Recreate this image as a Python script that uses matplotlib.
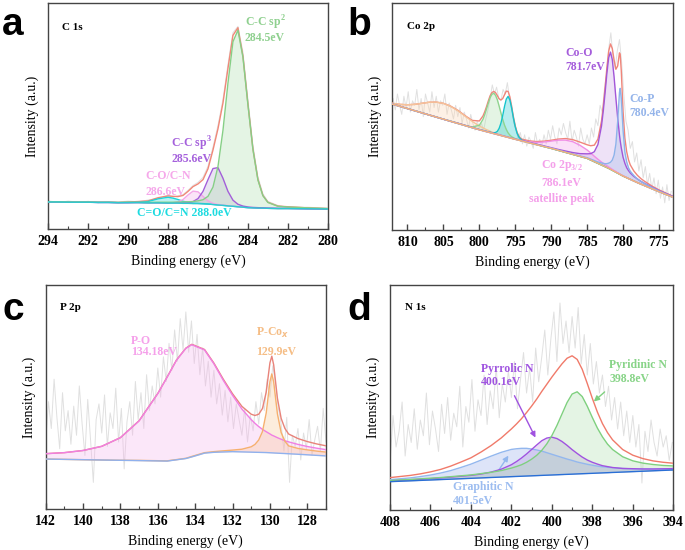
import numpy as np
import matplotlib
matplotlib.use('Agg')
import matplotlib.pyplot as plt
from matplotlib.ticker import MultipleLocator

# XPS fits, intensity in % of the axes height

# --- a: C 1s ---
a_x = [294, 293.5, 293, 292.5, 292, 291.5, 291, 290.5, 290, 289.5, 289, 288.5, 288,
       287.75, 287.5, 287.25, 287, 286.75, 286.5, 286.25, 286, 285.75, 285.5, 285.25, 285,
       284.75, 284.5, 284.25, 284, 283.75, 283.5, 283.25, 283, 282.5, 282, 281, 280]
a_base = [12.1, 12.1, 12.0, 12.0, 12.0, 11.9, 11.9, 11.8, 11.8, 11.8, 11.7, 11.7, 11.6,
          11.6, 11.6, 11.5, 11.5, 11.4, 11.4, 11.3, 11.2, 11.0, 10.8, 10.6, 10.4,
          10.2, 10.0, 9.8, 9.6, 9.5, 9.4, 9.4, 9.3, 9.2, 9.2, 9.1, 9.0]
a_c_o_n = [0, 0, 0, 0, 0, 0, 0, 0, 0.1, 0.2, 0.6, 1.8, 2.6,
           2.2, 1.6, 0.9, 0.5, 0.2, 0.1, 0.1, 0, 0, 0, 0, 0,
           0, 0, 0, 0, 0, 0, 0, 0, 0, 0, 0, 0]
a_co_cn = [0, 0, 0, 0, 0, 0, 0, 0, 0, 0, 0, 0.1, 0.1,
           0.2, 0.6, 1.7, 3.7, 5.5, 5.2, 3.3, 1.4, 0.5, 0.2, 0.1, 0.1,
           0.1, 0, 0, 0, 0, 0, 0, 0, 0, 0, 0, 0]
a_sp3 = [0, 0, 0, 0, 0, 0, 0, 0, 0, 0.1, 0.1, 0.1, 0.1,
         0.2, 0.2, 0.3, 0.4, 0.9, 2.2, 5.5, 10.8, 15.9, 16.5, 12.0, 6.4,
         2.7, 1.1, 0.5, 0.3, 0.2, 0.2, 0.1, 0.1, 0.1, 0.1, 0, 0]
a_sp2 = [0.1, 0.1, 0.1, 0.1, 0.1, 0.1, 0.1, 0.1, 0.2, 0.2, 0.2, 0.3, 0.4,
         0.4, 0.5, 0.6, 0.7, 0.9, 1.2, 1.8, 3.4, 7.7, 17.0, 33.2, 54.3,
         72.8, 78.1, 66.4, 45.6, 25.9, 12.5, 5.5, 2.6, 1.0, 0.7, 0.4, 0.2]
a_raw = [12.6, 11.9, 12.5, 12.0, 12.4, 11.8, 12.3, 12.1, 12.5, 12.2, 13.0, 13.6, 15.1,
         14.3, 14.9, 15.4, 17.3, 19.4, 20.8, 23.0, 27.9, 36.4, 46.0, 57.5, 73.0,
         87.0, 89.8, 78.5, 57.6, 37.3, 23.4, 15.8, 12.4, 10.6, 9.7, 9.8, 9.3]

# --- b: Co 2p ---
b_x = [812.5, 812, 811, 810, 809, 808, 807, 806, 805, 804, 803, 802, 801, 800,
       799.5, 799.25, 799, 798.75, 798.5, 798.25, 798, 797.75, 797.5, 797.25, 797, 796.75,
       796.5, 796.25, 796, 795.75, 795.5, 795.25, 795, 794.75, 794.5, 794.25, 794,
       793, 792, 791, 790, 789, 788, 787, 786, 785,
       784.5, 784, 783.5, 783,
       782.75, 782.5, 782.25, 782, 781.75, 781.5, 781.25, 781, 780.75, 780.5, 780.4,
       780.25, 780, 779.75, 779.5, 779.25, 779,
       778.5, 778, 777.5, 777, 776, 775, 774, 773]
b_base = [55.9, 55.43, 54.5, 53.56, 52.62, 51.69, 50.75, 49.82, 48.88, 47.94, 47.01, 46.07, 45.14, 44.2,
          43.78, 43.57, 43.36, 43.15, 42.94, 42.73, 42.52, 42.31, 42.1, 41.89, 41.68, 41.47,
          41.26, 41.05, 40.84, 40.63, 40.42, 40.21, 40.0, 39.8, 39.6, 39.4, 39.2,
          38.4, 37.6, 36.8, 36.0, 35.12, 34.24, 33.36, 32.48, 31.6,
          30.87, 30.13, 29.4, 28.67,
          28.3, 27.93, 27.57, 27.2, 26.78, 26.35, 25.93, 25.5, 25.08, 24.65, 24.48,
          24.23, 23.8, 23.44, 23.08, 22.71, 22.35,
          21.63, 20.9, 20.23, 19.57, 18.23, 16.9, 15.65, 14.4]
b_sat_12 = [0.3, 0.4, 0.9, 1.7, 2.8, 4.2, 5.6, 6.6, 7.0, 6.6, 5.6, 4.2, 2.8, 1.7,
            1.3, 1.1, 0.9, 0.8, 0.6, 0.5, 0.4, 0.4, 0.3, 0.2, 0.2, 0.1,
            0.1, 0.1, 0.1, 0.1, 0, 0, 0, 0, 0, 0, 0,
            0, 0, 0, 0, 0, 0, 0, 0, 0,
            0, 0, 0, 0,
            0, 0, 0, 0, 0, 0, 0, 0, 0, 0, 0,
            0, 0, 0, 0, 0, 0,
            0, 0, 0, 0, 0, 0, 0, 0]
b_p12_a = [0, 0, 0, 0, 0, 0, 0, 0, 0, 0.1, 0.1, 0.1, 0.3, 2.0,
           5.0, 7.3, 10.0, 12.8, 15.4, 17.1, 17.8, 17.1, 15.4, 12.8, 10.0, 7.3,
           5.0, 3.3, 2.0, 1.2, 0.7, 0.5, 0.3, 0.2, 0.2, 0.1, 0.1,
           0.1, 0.1, 0, 0, 0, 0, 0, 0, 0,
           0, 0, 0, 0,
           0, 0, 0, 0, 0, 0, 0, 0, 0, 0, 0,
           0, 0, 0, 0, 0, 0,
           0, 0, 0, 0, 0, 0, 0, 0]
b_p12_b = [0, 0, 0, 0, 0, 0, 0, 0, 0, 0, 0, 0, 0, 0.1,
           0.1, 0.1, 0.1, 0.1, 0.2, 0.2, 0.3, 0.7, 1.4, 2.9, 5.4, 9.0,
           13.2, 16.7, 18.1, 16.7, 13.2, 9.0, 5.4, 2.9, 1.4, 0.7, 0.3,
           0.1, 0.1, 0, 0, 0, 0, 0, 0, 0,
           0, 0, 0, 0,
           0, 0, 0, 0, 0, 0, 0, 0, 0, 0, 0,
           0, 0, 0, 0, 0, 0,
           0, 0, 0, 0, 0, 0, 0, 0]
b_sat_32 = [0, 0, 0, 0, 0, 0, 0, 0, 0, 0, 0, 0, 0, 0,
            0, 0, 0, 0, 0, 0, 0, 0, 0, 0, 0, 0,
            0, 0, 0, 0, 0, 0, 0.1, 0.1, 0.1, 0.1, 0.2,
            0.5, 1.0, 2.0, 3.2, 4.5, 5.4, 5.6, 4.9, 3.7,
            3.1, 2.4, 1.8, 1.3,
            1.1, 0.9, 0.8, 0.6, 0.5, 0.4, 0.3, 0.3, 0.2, 0.2, 0.1,
            0.1, 0.1, 0.1, 0.1, 0, 0,
            0, 0, 0, 0, 0, 0, 0, 0]
b_co_o = [0, 0, 0, 0, 0, 0, 0, 0, 0, 0, 0.1, 0.1, 0.1, 0.1,
          0.1, 0.1, 0.1, 0.1, 0.1, 0.1, 0.1, 0.1, 0.1, 0.1, 0.1, 0.1,
          0.1, 0.1, 0.1, 0.1, 0.1, 0.1, 0.1, 0.1, 0.1, 0.1, 0.2,
          0.2, 0.2, 0.3, 0.3, 0.4, 0.6, 0.8, 1.2, 2.0,
          2.8, 4.4, 8.3, 17.2,
          24.3, 32.7, 41.6, 48.8, 51.7, 48.8, 41.6, 32.7, 24.3, 17.2, 14.9,
          12.0, 8.3, 6.0, 4.4, 3.5, 2.8,
          2.0, 1.6, 1.2, 1.0, 0.7, 0.5, 0.4, 0.3]
b_co_p = [0, 0, 0, 0, 0, 0, 0, 0, 0, 0, 0, 0, 0, 0,
          0, 0, 0, 0, 0, 0, 0, 0, 0, 0, 0, 0,
          0, 0, 0, 0, 0, 0, 0, 0, 0, 0, 0,
          0, 0, 0.1, 0.1, 0.1, 0.1, 0.1, 0.2, 0.3,
          0.4, 0.5, 0.6, 0.9,
          1.1, 1.3, 1.7, 2.3, 3.1, 4.5, 7.1, 12.4, 22.8, 36.1, 38.0,
          33.9, 20.2, 11.0, 7.0, 4.8, 3.6,
          2.4, 1.6, 1.2, 0.9, 0.5, 0.3, 0.2, 0.1]
b_raw = [58, 53, 60, 55, 51, 59, 54, 61, 52, 57,
         55, 62, 53, 58, 50, 60, 56, 52, 61, 54,
         59, 52, 57, 55, 60, 51, 56, 53, 49, 55,
         50, 54, 47, 52, 49, 45, 51, 47, 44, 48,
         45, 47, 44, 49, 53, 58, 64, 60, 63, 58,
         57, 62, 60, 65, 58, 55, 47, 45, 40, 43,
         38, 42, 37, 41, 39, 36, 43, 38, 40, 37,
         42, 38, 44, 40, 46, 41, 38, 45, 42, 47,
         43, 40, 48, 39, 44, 41, 37, 45, 40, 38,
         42, 38, 45, 41, 49, 46, 55, 52, 62, 69,
         80, 87, 76, 71, 79, 84, 74, 60, 48, 44,
         36, 39, 30, 34, 26, 31, 23, 28, 20, 25,
         18, 23, 16, 22, 14, 19, 12, 20, 13, 17]

# --- c: P 2p ---
c_x = [142, 141, 140, 139, 138, 137, 136, 135.5, 135, 134.5, 134.18, 133.5, 133, 132.5, 132, 131.5,
       131, 130.8, 130.6, 130.4, 130.2, 130.0, 129.9, 129.8, 129.6, 129.4, 129.2, 129.0, 128.5, 128, 127.5, 127]
c_base = [22.4, 22.26, 22.12, 21.98, 21.85, 21.71, 21.57, 21.5, 22.07, 22.64, 23.37, 25.05, 25.41, 25.56, 25.7, 25.59,
          25.48, 25.43, 25.39, 25.34, 25.3, 25.21, 25.17, 25.12, 25.03, 24.94, 24.86, 24.77, 24.54, 24.3, 24.05, 23.8]
c_p_o = [2.4, 3.0, 4.1, 6.1, 10.1, 17.7, 30.0, 37.4, 44.4, 49.1, 50.0, 46.0, 39.5, 32.0, 25.1, 19.1,
         14.5, 12.9, 11.5, 10.3, 9.3, 8.4, 7.9, 7.6, 6.9, 6.3, 5.7, 5.3, 4.4, 3.7, 3.2, 2.8]
c_p_co = [0, 0, 0, 0, 0, 0.1, 0.1, 0.1, 0.1, 0.1, 0.2, 0.2, 0.3, 0.5, 0.7, 1.2,
          2.4, 3.5, 5.5, 9.3, 17.6, 31.7, 35.2, 31.7, 17.6, 9.3, 5.5, 3.5, 2.6, 2.2, 1.9, 1.7]
c_raw = [30, 48, 36, 58, 41, 27, 52, 35, 44, 29,
         46, 33, 55, 38, 24, 49, 31, 12, 40, 47,
         34, 51, 28, 43, 36, 54, 30, 45, 18, 39,
         48, 33, 57, 40, 52, 36, 60, 44, 55, 47,
         63, 50, 68, 57, 74, 62, 80, 66, 85, 71,
         88, 70, 84, 65, 78, 60, 72, 55, 66, 50,
         62, 47, 56, 42, 53, 39, 50, 36, 47, 40,
         33, 45, 30, 42, 35, 48, 38, 52, 44, 58,
         50, 64, 56, 45, 38, 26, 41, 12, 33, 28,
         36, 22, 34, 27, 40, 24, 31, 37, 26, 45, 30]

# --- d: N 1s ---
d_x = [408, 407.5, 407, 406.5, 406, 405.5, 405, 404.5, 404, 403.5, 403, 402.5,
       402, 401.75, 401.5, 401.25, 401, 400.75, 400.5, 400.25, 400, 399.75, 399.5,
       399.25, 399, 398.75, 398.5, 398.25, 398, 397.75, 397.5, 397.25, 397,
       396.5, 396, 395.5, 395, 394.5, 394]
d_base = [12.6, 12.79, 12.97, 13.16, 13.34, 13.53, 13.71, 13.9, 14.09, 14.27, 14.46, 14.64,
          14.83, 14.92, 15.01, 15.11, 15.2, 15.29, 15.39, 15.48, 15.57, 15.66, 15.76,
          15.85, 15.94, 16.04, 16.13, 16.22, 16.31, 16.41, 16.5, 16.59, 16.69,
          16.87, 17.06, 17.24, 17.43, 17.61, 17.8]
d_graphitic = [0.9, 1.1, 1.3, 1.7, 2.2, 2.9, 3.8, 5.0, 6.3, 7.9, 9.5, 11.0,
               12.1, 12.3, 12.4, 12.3, 11.9, 11.4, 10.8, 10.0, 9.2, 8.4, 7.6,
               6.8, 6.1, 5.3, 4.7, 4.1, 3.6, 3.1, 2.7, 2.4, 2.1,
               1.6, 1.2, 1.0, 0.8, 0.7, 0.6]
d_pyrrolic = [0.4, 0.4, 0.5, 0.5, 0.6, 0.7, 0.9, 1.1, 1.3, 1.7, 2.4, 3.5,
              5.3, 6.6, 8.1, 9.8, 11.7, 13.6, 15.4, 16.5, 16.8, 16.1, 14.7,
              12.9, 10.9, 9.1, 7.4, 6.0, 4.9, 4.0, 3.2, 2.7, 2.2,
              1.6, 1.3, 1.0, 0.8, 0.7, 0.6]
d_pyridinic = [0.5, 0.6, 0.6, 0.7, 0.8, 0.9, 1.1, 1.3, 1.5, 1.9, 2.3, 2.9,
               3.8, 4.4, 5.1, 6.1, 7.4, 9.0, 11.1, 13.9, 17.5, 21.9, 26.9,
               31.9, 35.6, 36.5, 34.3, 29.9, 24.8, 20.0, 16.0, 12.7, 10.2,
               6.8, 4.8, 3.6, 2.8, 2.2, 1.8]
d_raw = [20, 42, 28, 35, 48, 24, 38, 30, 45, 27,
         40, 33, 52, 29, 44, 36, 26, 47, 34, 50,
         31, 43, 37, 55, 28, 46, 39, 58, 35, 49,
         42, 60, 38, 53, 45, 64, 41, 56, 48, 62,
         50, 66, 45, 58, 70, 52, 63, 48, 72, 57,
         68, 80, 60, 76, 88, 66, 92, 74, 84, 70,
         86, 72, 90, 65, 78, 60, 74, 56, 66, 52,
         60, 46, 55, 40, 50, 36, 48, 33, 44, 30,
         42, 28, 38, 12, 35, 26, 40, 30, 24, 36,
         28, 33, 22, 30]

plt.rcParams['font.family'] = ['Liberation Serif', 'DejaVu Serif']
plt.rcParams['font.weight'] = 'bold'
plt.rcParams['mathtext.fontset'] = 'custom'
plt.rcParams['mathtext.rm'] = 'Liberation Serif:bold'
plt.rcParams['mathtext.bf'] = 'Liberation Serif:bold'

fig = plt.figure(figsize=(6.85, 5.5), dpi=100)
axa = fig.add_axes([0.0705, 0.583, 0.408, 0.411])
axb = fig.add_axes([0.5718, 0.5818, 0.4107, 0.4122])
axc = fig.add_axes([0.0667, 0.074, 0.4092, 0.4078])
axd = fig.add_axes([0.5693, 0.0727, 0.4136, 0.4091])


def style(ax, xlim, major, minor):
    ax.set_xlim(*xlim)
    ax.set_ylim(0, 100)
    ax.xaxis.set_major_locator(MultipleLocator(major))
    ax.xaxis.set_minor_locator(MultipleLocator(minor))
    ax.set_yticks([])
    ax.tick_params(axis='x', which='major', direction='in', length=4, width=1,
                   labelsize=10, pad=4, color='#444444')
    ax.tick_params(axis='x', which='minor', direction='in', length=2.5, width=0.8, color='#444444')
    for s in ax.spines.values():
        s.set_color('#444444')
        s.set_linewidth(1.0)
    ax.set_xlabel('Binding energy (eV)', fontsize=10, labelpad=5)
    ax.set_ylabel('Intensity (a.u.)', fontsize=10, labelpad=7)


def draw(ax, x, base, comps, lcols, fcols, env_col, base_col, raw_x, raw):
    # raw spectrum, envelope, filled components and background
    x = np.array(x)
    base = np.array(base)
    ax.plot(raw_x, raw, color='#e0e0e0', lw=0.7, zorder=1)
    env = base.copy()
    for comp, lc, fc in zip(comps, lcols, fcols):
        top = base + np.array(comp)
        env = env + np.array(comp)
        ax.fill_between(x, base, top, color=fc, alpha=0.3, lw=0, zorder=2)
        ax.plot(x, top, color=lc, lw=1.0, zorder=4)
    ax.plot(x, env, color=env_col, lw=1.0, zorder=3)
    ax.plot(x, base, color=base_col, lw=1.0, zorder=4)


def label(ax, x, y, lines, color, dy, ha='left'):
    for i, s in enumerate(lines):
        ax.text(x, y - i * dy, s, color=color, fontsize=8.5, va='center', ha=ha)


# a
draw(axa, a_x, a_base, [a_c_o_n, a_co_cn, a_sp3, a_sp2],
     ['#1cd4d8', '#f4a6e8', '#a35fd9', '#86cf86'],
     ['#1cd4d8', '#f4a6e8', '#b9a8d6', '#a8dca8'], '#f08878', '#2cc9d0', a_x, a_raw)
style(axa, (294, 280), 2, 1)
axa.text(293.3, 89.4, 'C 1s', fontsize=8, va='center')
label(axa, 284.17, 91.2, [r'C-C sp$^{2}$', '284.5eV'], '#8fd08f', 6.7)
label(axa, 287.83, 38.0, [r'C-C sp$^{3}$', '285.6eV'], '#a561dc', 7.0)
label(axa, 289.13, 23.6, ['C-O/C-N', '286.6eV'], '#f5a8ea', 7.0)
label(axa, 289.58, 7.1, ['C=O/C=N 288.0eV'], '#1ddbe0', 0)

# b
draw(axb, b_x, b_base, [b_sat_12, b_p12_a, b_p12_b, b_sat_32, b_co_o, b_co_p],
     ['#f5c49a', '#8fd48f', '#14c4cc', '#f08ee6', '#a256d8', '#8db3ea'],
     ['#fbd3ad', '#a8dca8', '#14c4cc', '#f29be9', '#c8a0e6', '#9db9e8'], '#f0857a', '#f5b27a',
     np.linspace(812, 773.3, len(b_raw)), b_raw)
style(axb, (812.2, 773.05), 5, 2.5)
axb.text(810.1, 89.7, 'Co 2p', fontsize=8, va='center')
label(axb, 788.0, 78.2, ['Co-O', '781.7eV'], '#a55ddb', 6.2)
label(axb, 779.14, 57.6, ['Co-P', '780.4eV'], '#94b4ea', 6.1)
label(axb, 788.55, 28.4, [r'Co 2p$_{3/2}$', '786.1eV', 'satellite peak'], '#f4a0ea', 7.45, ha='center')

# c
draw(axc, c_x, c_base, [c_p_o, c_p_co], ['#f07fe3', '#f6b06e'], ['#f5b0ec', '#f8c48e'],
     '#e8837a', '#8fb1ee', np.linspace(142, 127, len(c_raw)), c_raw)
style(axc, (142, 127), 2, 1)
axc.text(141.23, 89.9, 'P 2p', fontsize=8, va='center')
label(axc, 137.45, 75.2, ['P-O', '134.18eV'], '#f5a0ea', 5.2)
label(axc, 130.75, 78.5, [r'P-Co$_{x}$', '129.9eV'], '#f5bd85', 8.2)

# d
draw(axd, d_x, d_base, [d_graphitic, d_pyrrolic, d_pyridinic],
     ['#93b7ee', '#a052e0', '#7fd07f'], ['#8fa8e8', '#b890e0', '#a8dca8'],
     '#f07a6a', '#2a6fd6', np.linspace(408, 394.05, len(d_raw)), d_raw)
style(axd, (408, 394), 2, 1)
axd.text(407.26, 90.1, 'N 1s', fontsize=8, va='center')
label(axd, 403.52, 62.8, ['Pyrrolic N', '400.1eV'], '#a055e0', 6.1)
label(axd, 397.16, 64.4, ['Pyridinic N', '398.8eV'], '#88d488', 6.2)
label(axd, 404.87, 10.4, ['Graphitic N', '401.5eV'], '#9dbdf0', 6.3)
axd.annotate('', xy=(400.75, 31.1), xytext=(401.91, 51.9),
             arrowprops=dict(arrowstyle='-|>', color='#a052e0', lw=1, mutation_scale=8))
axd.annotate('', xy=(398.03, 47.4), xytext=(397.29, 53.3),
             arrowprops=dict(arrowstyle='-|>', color='#7fd07f', lw=1, mutation_scale=8))
axd.annotate('', xy=(402.07, 25.2), xytext=(402.73, 16.3),
             arrowprops=dict(arrowstyle='-|>', color='#93b7ee', lw=1, mutation_scale=8))

# panel letters
for t, x, y in [('a', 0.003, 0.936), ('b', 0.5066, 0.936), ('c', 0.003, 0.418), ('d', 0.5066, 0.418)]:
    fig.text(x, y, t, fontsize=28, fontweight='bold', family='Liberation Sans', va='baseline')

fig.savefig('out.png', dpi=100)
